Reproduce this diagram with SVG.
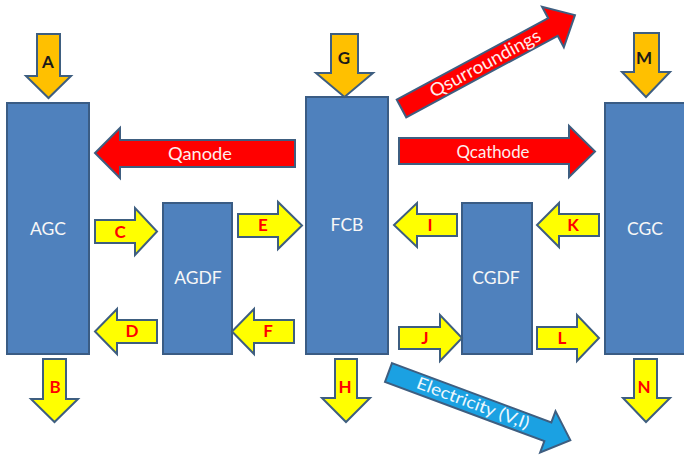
<svg xmlns="http://www.w3.org/2000/svg" width="684" height="458" viewBox="0 0 684 458">
<style>
.box{fill:#4F81BD;stroke:#3A5C84;stroke-width:2}
.yel{fill:#FFFF00;stroke:#3E5E80;stroke-width:2;stroke-linejoin:miter}
.org{fill:#FFC000;stroke:#3E5E80;stroke-width:2;stroke-linejoin:miter}
.red{fill:#FF0000;stroke:#3E5E80;stroke-width:2;stroke-linejoin:miter}
.blu{fill:#1BA1E2;stroke:#3E5E80;stroke-width:2;stroke-linejoin:miter}
.bl{font-family:Lato,"Liberation Sans",sans-serif;font-size:17.5px;fill:#F7F7F7;text-anchor:middle}
.lr{font-family:Lato,"Liberation Sans",sans-serif;font-size:17px;font-weight:bold;fill:#FF0000;text-anchor:middle}
.lk{font-family:Lato,"Liberation Sans",sans-serif;font-size:17px;font-weight:bold;fill:#1A1A1A;text-anchor:middle}
.qt{font-family:Lato,"Liberation Sans",sans-serif;font-size:18px;fill:#FDEEEE;text-anchor:middle}
.et{font-family:Lato,"Liberation Sans",sans-serif;font-size:17px;fill:#EEF8FD;text-anchor:middle}
</style>
<g id="AGC"><rect class="box" x="7" y="103" width="82" height="251"/><text class="bl" x="48" y="235">AGC</text></g>
<g id="AGDF"><rect class="box" x="163" y="203" width="69" height="151"/><text class="bl" x="198" y="284">AGDF</text></g>
<g id="FCB"><rect class="box" x="306" y="97" width="82" height="257"/><text class="bl" x="347" y="231">FCB</text></g>
<g id="CGDF"><rect class="box" x="462" y="203" width="70" height="151"/><text class="bl" x="496" y="284">CGDF</text></g>
<g id="CGC"><rect class="box" x="605" y="103" width="84" height="251"/><text class="bl" x="645" y="235">CGC</text></g>
<g id="connectors">
<g id="arrow-A"><path class="org" d="M37,34 H60 V76 H71 L48.5,98 L26,76 H37 Z"/><text class="lk" x="48" y="68">A</text></g>
<g id="arrow-B"><path class="yel" d="M43,359 H66 V399 H78 L54.5,422 L31,399 H43 Z"/><text class="lr" x="55" y="393">B</text></g>
<g id="arrow-G"><path class="org" d="M331,34 H358 V73 H373 L344.5,97 L316,73 H331 Z"/><text class="lk" x="344" y="64">G</text></g>
<g id="arrow-H"><path class="yel" d="M335,359 H357 V398 H370 L346,422 L322,398 H335 Z"/><text class="lr" x="345" y="393">H</text></g>
<g id="arrow-M"><path class="org" d="M634,33 H659 V72 H670 L646,97 L622,72 H634 Z"/><text class="lk" x="644" y="64">M</text></g>
<g id="arrow-N"><path class="yel" d="M634,359 H657 V398 H670 L646,422 L623,398 H634 Z"/><text class="lr" x="644" y="393">N</text></g>
<g id="arrow-C"><path class="yel" d="M95,220 H135 V208 L157,231.5 L135,255 V243 H95 Z"/><text class="lr" x="120" y="238">C</text></g>
<g id="arrow-E"><path class="yel" d="M238,214 H278 V202 L302,225.5 L278,249 V237 H238 Z"/><text class="lr" x="263" y="231">E</text></g>
<g id="arrow-D"><path class="yel" d="M157,320 H117 V309 L95,331.5 L117,354 V343 H157 Z"/><text class="lr" x="132" y="337">D</text></g>
<g id="arrow-F"><path class="yel" d="M294,320 H254 V309 L232,331.5 L254,354 V343 H294 Z"/><text class="lr" x="268" y="337">F</text></g>
<g id="arrow-I"><path class="yel" d="M457,214 H417 V203 L394,225 L417,247 V236 H457 Z"/><text class="lr" x="430" y="231">I</text></g>
<g id="arrow-K"><path class="yel" d="M599,214 H559 V203 L537,225 L559,247 V236 H599 Z"/><text class="lr" x="573" y="231">K</text></g>
<g id="arrow-J"><path class="yel" d="M399,327 H440 V315 L462,338 L440,361 V349 H399 Z"/><text class="lr" x="425" y="344">J</text></g>
<g id="arrow-L"><path class="yel" d="M537,327 H577 V315 L599,338 L577,361 V349 H537 Z"/><text class="lr" x="562" y="344">L</text></g>
<g id="arrow-Qanode"><path class="red" d="M295,140 H120 V128 L95,153 L120,178 V167 H295 Z"/><text class="qt" x="200" y="160" textLength="64" lengthAdjust="spacingAndGlyphs">Qanode</text></g>
<g id="arrow-Qcathode"><path class="red" d="M399,138 H569 V126 L595,151.5 L569,177 V164 H399 Z"/><text class="qt" x="493" y="158" textLength="73" lengthAdjust="spacingAndGlyphs">Qcathode</text></g>
<g id="arrow-Qsurroundings" transform="translate(401.5,108.5) rotate(-28.3)"><path class="red" d="M0,-10 H172 V-23 L197,0 L172,23 V10 H0 Z"/><text class="qt" x="95" y="6" textLength="123" lengthAdjust="spacingAndGlyphs">Qsurroundings</text></g>
<g id="arrow-Electricity" transform="translate(388.5,372.5) rotate(20.4)"><path class="blu" d="M0,-10 H170 V-22 L194,0 L170,22 V10 H0 Z"/><text class="et" x="90" y="5" textLength="119" lengthAdjust="spacingAndGlyphs">Electricity (V,I)</text></g>
</g>
</svg>
